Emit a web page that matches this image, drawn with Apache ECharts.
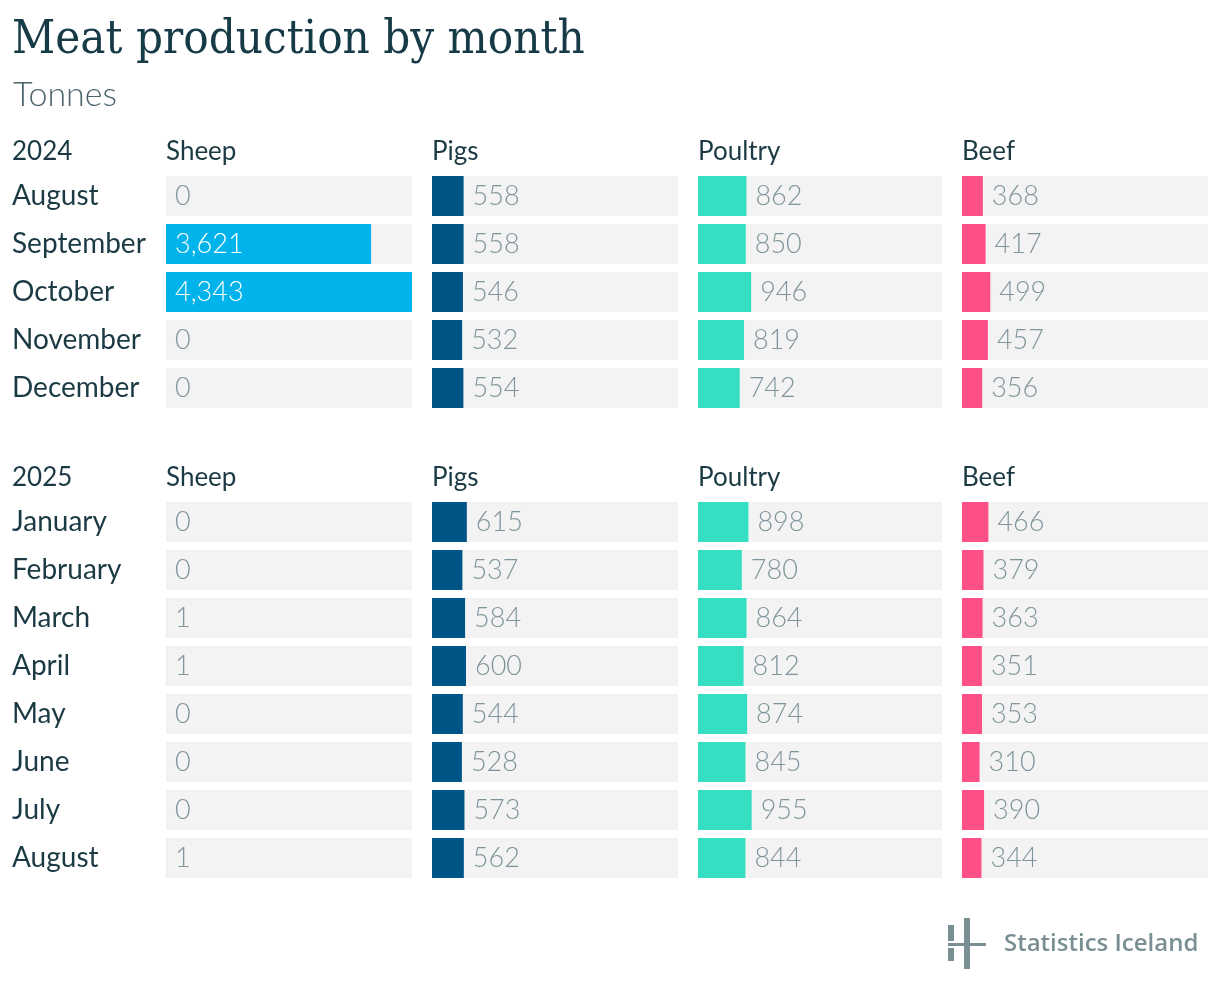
<!DOCTYPE html>
<html>
<head>
<meta charset="utf-8">
<script src="https://cdn.jsdelivr.net/npm/echarts@6/dist/echarts.min.js"></script>
<style>
html,body{margin:0;padding:0;background:#fff;}
#chart{width:1220px;height:994px;}
</style>
</head>
<body>
<div id="chart"></div>
<script>
const titleText = 'Meat production by month';
const subtitleText = 'Tonnes';
const columns = ['Sheep', 'Pigs', 'Poultry', 'Beef'];
const colors = ['#00b4eb', '#005587', '#35dfc1', '#ff4f87'];

const year1 = '2024';
const months1 = ['August', 'September', 'October', 'November', 'December'];
const sheep1 = [0, 3621, 4343, 0, 0];
const pigs1 = [558, 558, 546, 532, 554];
const poultry1 = [862, 850, 946, 819, 742];
const beef1 = [368, 417, 499, 457, 356];

const year2 = '2025';
const months2 = ['January', 'February', 'March', 'April', 'May', 'June', 'July', 'August'];
const sheep2 = [0, 0, 1, 1, 0, 0, 0, 1];
const pigs2 = [615, 537, 584, 600, 544, 528, 573, 562];
const poultry2 = [898, 780, 864, 812, 874, 845, 955, 844];
const beef2 = [466, 379, 363, 351, 353, 310, 390, 344];

const sections = [
  { year: year1, months: months1, values: [sheep1, pigs1, poultry1, beef1], top: 172 },
  { year: year2, months: months2, values: [sheep2, pigs2, poultry2, beef2], top: 498 }
];

const maxVal = Math.max(...[sheep1, pigs1, poultry1, beef1, sheep2, pigs2, poultry2, beef2].flat());
const colLeft = [166, 432, 698, 962];
const colWidth = [246, 246, 244, 246];
const rowH = 48;
const fmt = v => v.toLocaleString('en-US');
const labelFont = 'Lato';

const grid = [], xAxis = [], yAxis = [], series = [], graphic = [];
let gi = 0;
sections.forEach((sec, si) => {
  graphic.push({ type: 'text', left: 12, top: sec.top - 33, style: { text: sec.year, font: '400 26px Lato', fill: '#1b3a44' } });
  columns.forEach((col, ci) => {
    graphic.push({ type: 'text', left: colLeft[ci], top: sec.top - 33, style: { text: col, font: '400 26px Lato', fill: '#1b3a44' } });
    grid.push({ left: colLeft[ci], width: colWidth[ci], top: sec.top, height: rowH * sec.months.length });
    xAxis.push({ gridIndex: gi, type: 'value', min: 0, max: maxVal, show: false });
    yAxis.push({
      gridIndex: gi, type: 'category', data: sec.months, inverse: true,
      axisLine: { show: false }, axisTick: { show: false }, splitLine: { show: false },
      axisLabel: ci === 0 ? { show: true, align: 'left', margin: 154, fontFamily: labelFont, fontSize: 28, color: '#1b3a44', padding: [2, 0, 0, 0] } : { show: false }
    });
    series.push({
      type: 'bar', xAxisIndex: gi, yAxisIndex: gi, barWidth: 40,
      showBackground: true, backgroundStyle: { color: '#f3f3f3' },
      itemStyle: { color: colors[ci] },
      silent: true, animation: false,
      data: sec.values[ci].map(v => {
        const inside = v > maxVal * 0.5;
        return {
          value: v,
          label: {
            show: true,
            position: inside ? 'insideLeft' : 'right',
            distance: 9,
            formatter: p => fmt(p.value),
            fontFamily: labelFont, fontWeight: 300, fontSize: 27,
            color: inside ? '#ffffff' : '#7f959b',
            padding: [2, 0, 0, 0]
          }
        };
      })
    });
    gi++;
  });
});

// Logo
const logoColor = '#7a8f94';
graphic.push(
  { type: 'rect', shape: { x: 948, y: 925, width: 6, height: 16 }, style: { fill: logoColor } },
  { type: 'rect', shape: { x: 948, y: 948, width: 6, height: 13 }, style: { fill: logoColor } },
  { type: 'rect', shape: { x: 964, y: 918, width: 6, height: 51 }, style: { fill: logoColor } },
  { type: 'rect', shape: { x: 948, y: 943, width: 38, height: 3 }, style: { fill: logoColor } },
  { type: 'text', left: 1004, top: 932, style: { text: 'Statistics Iceland', font: '600 24px "Open Sans"', fill: logoColor } }
);

const chart = echarts.init(document.getElementById('chart'), null, { renderer: 'canvas' });
chart.setOption({
  backgroundColor: '#ffffff',
  animation: false,
  title: [
    { text: titleText, left: 7, top: 12, textStyle: { fontFamily: '"DejaVu Serif Condensed", "DejaVu Serif"', fontWeight: 400, fontSize: 47, color: '#163a46' } },
    { text: subtitleText, left: 8, top: 73, textStyle: { fontFamily: 'Lato', fontWeight: 300, fontSize: 34, color: '#4d656c' } }
  ],
  grid, xAxis, yAxis, series, graphic
});
</script>
</body>
</html>
